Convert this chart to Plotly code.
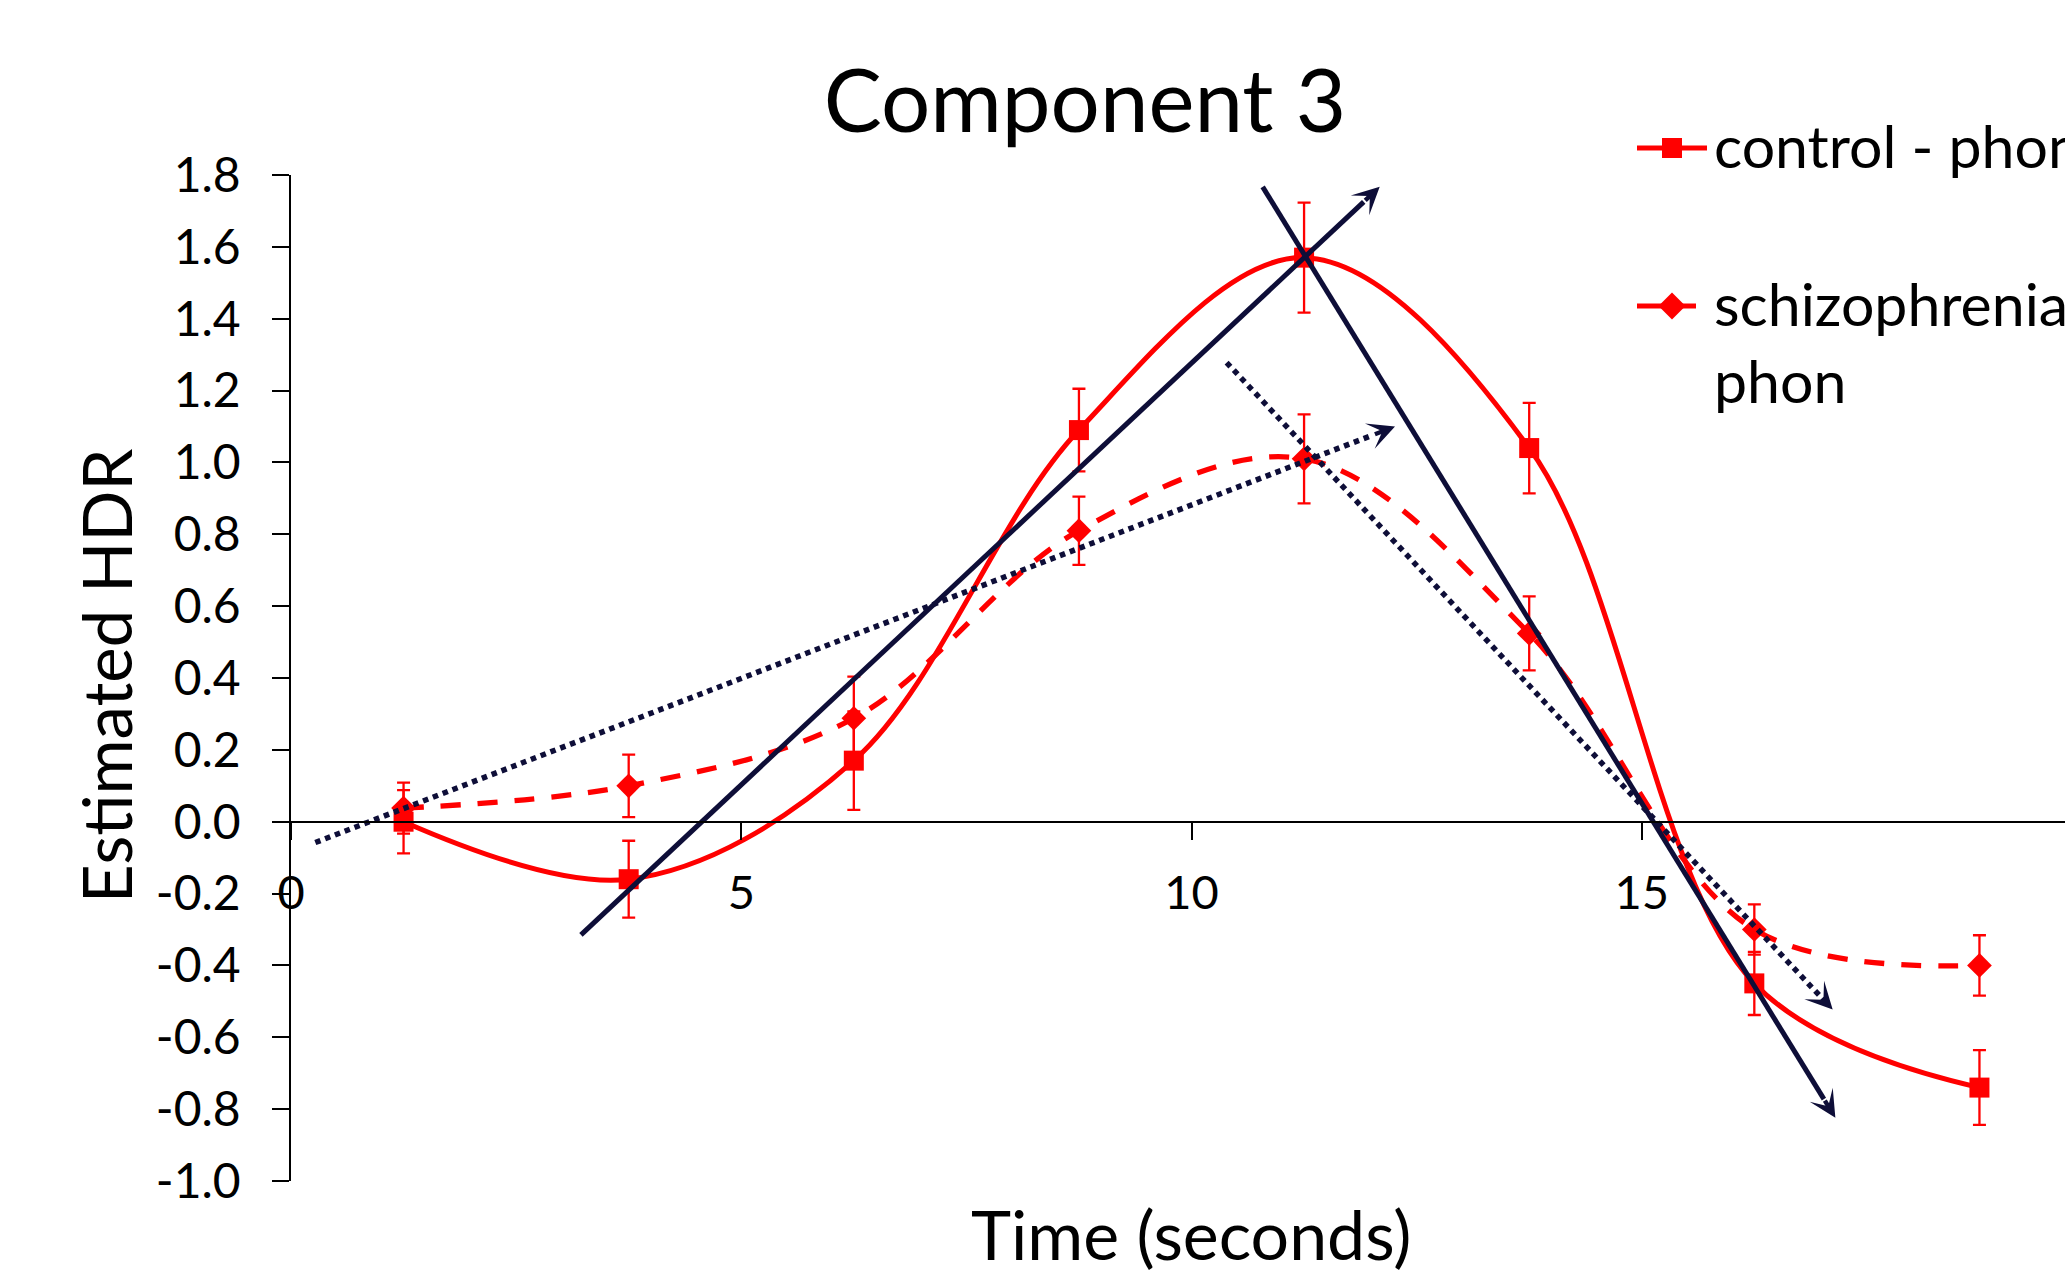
import plotly.graph_objects as go

# ---------------- data ----------------
time_s = [1.25, 3.75, 6.25, 8.75, 11.25, 13.75, 16.25, 18.75]
control_phon = [0.0, -0.16, 0.17, 1.09, 1.57, 1.04, -0.45, -0.74]
control_err = [0.088, 0.107, 0.137, 0.115, 0.153, 0.126, 0.088, 0.104]
schizo_phon = [0.038, 0.10, 0.288, 0.81, 1.01, 0.524, -0.30, -0.40]
schizo_err = [0.071, 0.087, 0.116, 0.095, 0.124, 0.103, 0.07, 0.084]

series_names = ["control - phon", "schizophrenia -<br>phon"]

# trend arrows drawn on top of the chart (tail -> head, in data units)
trend_tail_x = [3.22, 10.79, 0.27, 10.39]
trend_tail_y = [-0.315, 1.767, -0.058, 1.278]
trend_head_x = [12.09, 17.15, 12.26, 17.12]
trend_head_y = [1.767, -0.824, 1.10, -0.523]

y_tickvals = [-1.0, -0.8, -0.6, -0.4, -0.2, 0.0, 0.2, 0.4, 0.6, 0.8, 1.0, 1.2, 1.4, 1.6, 1.8]
y_ticktext = ["-1.0", "-0.8", "-0.6", "-0.4", "-0.2", "0.0", "0.2", "0.4", "0.6", "0.8",
              "1.0", "1.2", "1.4", "1.6", "1.8"]
x_tickvals = [0, 5, 10, 15]
x_ticktext = ["0", "5", "10", "15"]

title_text = "Component 3"
x_title = "Time (seconds)"
y_title = "Estimated HDR"

# ---------------- layout constants ----------------
W, H = 2065, 1274
ML, MR, MT, MB = 291, 0, 175, 93
PW, PH = W - ML - MR, H - MT - MB
X_RANGE = [0, 19.7]
Y_RANGE = [-1.0, 1.8]
FONT = "Lato, Calibri, Carlito, sans-serif"
RED = "#FF0000"
NAVY = "#0E0E38"
trend_dash = ["solid", "solid", "5.5px,5px", "5.5px,5px"]
trend_width = [5, 5, 5.5, 5.5]


def paper_x(p):
    return (p - ML) / PW


def paper_y(p):
    return (H - MB - p) / PH


fig = go.Figure()

fig.add_trace(go.Scatter(
    x=time_s, y=control_phon, name=series_names[0], mode="lines+markers",
    line=dict(color=RED, width=5, shape="spline", smoothing=1.0),
    marker=dict(symbol="square", size=20, color=RED),
    error_y=dict(type="data", array=control_err, visible=True, color=RED,
                 thickness=2.3, width=6.5),
    showlegend=False,
))
fig.add_trace(go.Scatter(
    x=time_s, y=schizo_phon, name=series_names[1], mode="lines+markers",
    line=dict(color=RED, width=5.3, shape="spline", smoothing=1.0, dash="20px,17px"),
    marker=dict(symbol="diamond", size=19, color=RED),
    error_y=dict(type="data", array=schizo_err, visible=True, color=RED,
                 thickness=2.3, width=6.5),
    showlegend=False,
))

annotations = []
for tx, ty, hx, hy, dsh, lw in zip(trend_tail_x, trend_tail_y, trend_head_x, trend_head_y,
                                   trend_dash, trend_width):
    ex = tx + 0.98 * (hx - tx)
    ey = ty + 0.98 * (hy - ty)
    fig.add_trace(go.Scatter(
        x=[tx, ex], y=[ty, ey], mode="lines",
        line=dict(color=NAVY, width=lw, dash=dsh),
        showlegend=False, hoverinfo="skip",
    ))
    annotations.append(dict(
        x=hx, y=hy, xref="x", yref="y",
        ax=tx + 0.98 * (hx - tx), ay=ty + 0.98 * (hy - ty), axref="x", ayref="y",
        text="", showarrow=True, arrowhead=3, arrowsize=1.0, arrowwidth=4.5,
        arrowcolor=NAVY,
    ))

# axis titles
annotations.append(dict(
    x=paper_x(106), y=paper_y(676), xref="paper", yref="paper", text=y_title,
    textangle=-90, showarrow=False, xanchor="center", yanchor="middle",
    font=dict(family=FONT, size=67, color="black"),
))
annotations.append(dict(
    x=paper_x(1191), y=paper_y(1233), xref="paper", yref="paper", text=x_title,
    showarrow=False, xanchor="center", yanchor="middle",
    font=dict(family=FONT, size=68, color="black"),
))

# manual legend (runs off the right edge like the original)
annotations.append(dict(
    x=paper_x(1712), y=paper_y(146), xref="paper", yref="paper", text=series_names[0],
    showarrow=False, xanchor="left", yanchor="middle", align="left",
    font=dict(family=FONT, size=59, color="black"),
))
annotations.append(dict(
    x=paper_x(1712), y=paper_y(342), xref="paper", yref="paper", text=series_names[1],
    showarrow=False, xanchor="left", yanchor="middle", align="left",
    font=dict(family=FONT, size=59, color="black"),
))

shapes = [
    dict(type="line", xref="paper", yref="paper",
         x0=paper_x(1637), x1=paper_x(1707), y0=paper_y(148), y1=paper_y(148),
         line=dict(color=RED, width=4.8)),
    dict(type="rect", xref="paper", yref="paper",
         x0=paper_x(1662), x1=paper_x(1682), y0=paper_y(138), y1=paper_y(158),
         fillcolor=RED, line=dict(width=0)),
    dict(type="line", xref="paper", yref="paper",
         x0=paper_x(1637), x1=paper_x(1696), y0=paper_y(306), y1=paper_y(306),
         line=dict(color=RED, width=5)),
    dict(type="path", xref="paper", yref="paper",
         path="M {a},{b} L {c},{d} L {a},{e} L {f},{d} Z".format(
             a=paper_x(1672), b=paper_y(292.5), c=paper_x(1685.5), d=paper_y(306),
             e=paper_y(319.5), f=paper_x(1658.5)),
         fillcolor=RED, line=dict(width=0)),
]

fig.update_layout(
    template="none",
    width=W, height=H,
    margin=dict(l=ML, r=MR, t=MT, b=MB, pad=0),
    paper_bgcolor="white", plot_bgcolor="white",
    font=dict(family=FONT, color="black"),
    title=dict(text=title_text, x=1085 / W, y=1 - 102 / H, xanchor="center",
               yanchor="middle", xref="container", yref="container",
               font=dict(family=FONT, size=87, color="black")),
    showlegend=False,
    annotations=annotations,
    shapes=shapes,
    xaxis=dict(
        range=X_RANGE, anchor="free",
        position=(0 - Y_RANGE[0]) / (Y_RANGE[1] - Y_RANGE[0]),
        showline=True, linecolor="black", linewidth=2,
        ticks="outside", ticklen=17, tickwidth=1.5, tickcolor="black",
        tickvals=x_tickvals, ticktext=x_ticktext,
        tickfont=dict(family=FONT, size=47, color="black"),
        ticklabelstandoff=13,
        showgrid=False, zeroline=False, automargin=False,
    ),
    yaxis=dict(
        range=Y_RANGE, showline=True, linecolor="black", linewidth=1.5,
        ticks="outside", ticklen=17, tickwidth=1.5, tickcolor="black",
        tickvals=y_tickvals, ticktext=y_ticktext,
        tickfont=dict(family=FONT, size=48, color="black"),
        ticklabelstandoff=22,
        showgrid=False, zeroline=False, automargin=False,
    ),
)

fig.write_html("out.html", config={"displayModeBar": False},
               post_script="document.body.style.margin='0';document.body.style.overflow='hidden';")
